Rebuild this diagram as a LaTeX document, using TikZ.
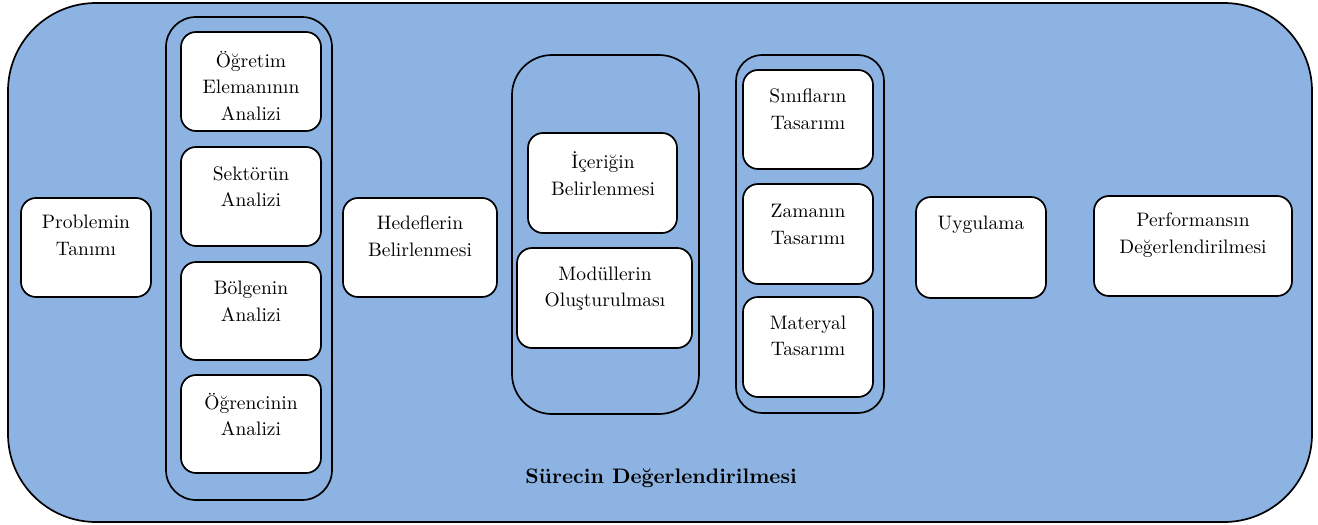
\documentclass[tikz,border=0pt]{standalone}
\usepackage{fontspec}
\setmainfont{lmroman10}[Extension=.otf, UprightFont=*-regular, BoldFont=*-bold, ItalicFont=*-italic, BoldItalicFont=*-bolditalic]
\definecolor{bgblue}{HTML}{8DB3E2}
\begin{document}
\begin{tikzpicture}[x=1pt,y=-1pt,
  box/.style={draw, line width=1.7pt, fill=white, rounded corners=15pt, inner sep=0pt},
  grp/.style={draw, line width=1.7pt, fill=bgblue, inner sep=0pt},
  lbl/.style={align=center, inner sep=0pt, font=\fontsize{19.5}{26.5}\selectfont}]
\useasboundingbox (0,0) rectangle (1318,525);
% outer
\node[grp, rounded corners=88pt, minimum width=1304, minimum height=519] (outer) at (660,262.5) {};
% groups
\node[grp, rounded corners=30pt, minimum width=166, minimum height=483] (g1) at (249,258.5) {};
\node[grp, rounded corners=40pt, minimum width=187, minimum height=359] (g2) at (605.5,234.5) {};
\node[grp, rounded corners=26pt, minimum width=148, minimum height=358] (g3) at (810,234) {};
% boxes
\node[box, minimum width=130, minimum height=99] (prob) at (86,247.5) {};
\node[box, minimum width=140, minimum height=99] (ogr) at (251,81.5) {};
\node[box, minimum width=140, minimum height=99] (sek) at (251,196.5) {};
\node[box, minimum width=140, minimum height=98] (bol) at (251,311) {};
\node[box, minimum width=140, minimum height=98] (ogc) at (251,424) {};
\node[box, minimum width=154, minimum height=99] (hed) at (420,247.5) {};
\node[box, minimum width=149, minimum height=100] (ice) at (602.5,183) {};
\node[box, minimum width=175, minimum height=100] (mod) at (604.5,298) {};
\node[box, minimum width=130, minimum height=99] (sin) at (808,119.5) {};
\node[box, minimum width=130, minimum height=100] (zam) at (808,234) {};
\node[box, minimum width=130, minimum height=100] (mat) at (808,347) {};
\node[box, minimum width=130, minimum height=101] (uyg) at (981,247.5) {};
\node[box, minimum width=198, minimum height=100] (per) at (1193,246) {};
% labels
\node[lbl] (tprob) at (86,235.5) {Problemin\\Tanımı};
\node[lbl] (togr) at (251,86) {Öğretim\\Elemanının\\Analizi};
\node[lbl] (tsek) at (251,186.5) {Sektörün\\Analizi};
\node[lbl] (tbol) at (251,301.5) {Bölgenin\\Analizi};
\node[lbl] (togc) at (251,414.5) {Öğrencinin\\Analizi};
\node[lbl] (thed) at (420,236) {Hedeflerin\\Belirlenmesi};
\node[lbl] (tice) at (603,173.5) {İçeriğin\\Belirlenmesi};
\node[lbl] (tmod) at (605,288.5) {Modüllerin\\Oluşturulması};
\node[lbl] (tsin) at (808,109) {Sınıfların\\Tasarımı};
\node[lbl] (tzam) at (808,224.5) {Zamanın\\Tasarımı};
\node[lbl] (tmat) at (808,336) {Materyal\\Tasarımı};
\node[lbl] (tuyg) at (981,225) {Uygulama};
\node[lbl] (tper) at (1193,235) {Performansın\\Değerlendirilmesi};
\node[lbl, font=\bfseries\fontsize{21}{26}\selectfont] (cap) at (661,478) {Sürecin Değerlendirilmesi};
\end{tikzpicture}
\end{document}
